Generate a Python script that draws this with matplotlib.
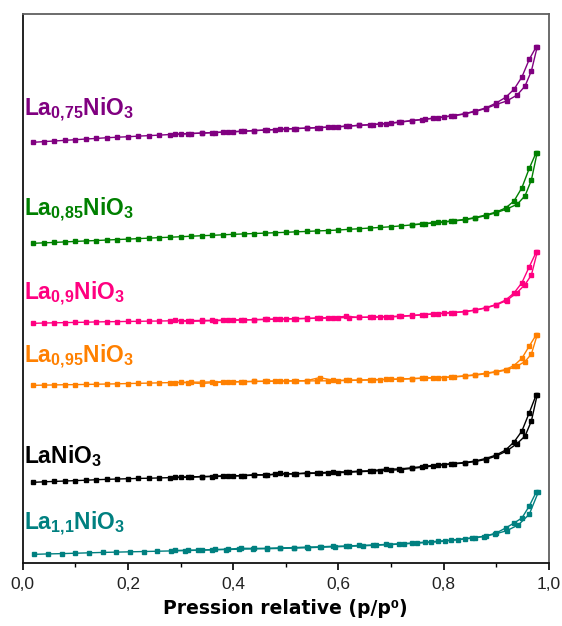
import matplotlib
matplotlib.use("Agg")
import matplotlib.pyplot as plt
from matplotlib.ticker import MultipleLocator, FuncFormatter

plt.rcParams['font.family'] = ['Liberation Sans', 'DejaVu Sans']
plt.rcParams['mathtext.fontset'] = 'custom'
plt.rcParams['mathtext.rm'] = 'Liberation Sans'
plt.rcParams['mathtext.bf'] = 'Liberation Sans:bold'
plt.rcParams['mathtext.it'] = 'Liberation Sans:italic'

# relative pressure grids (p/p0)
p_ads = [0.02, 0.04, 0.06, 0.08, 0.10, 0.12, 0.14, 0.16, 0.18, 0.20,
         0.22, 0.24, 0.26, 0.28, 0.30, 0.32, 0.34, 0.36, 0.38, 0.40,
         0.42, 0.44, 0.46, 0.48, 0.50, 0.52, 0.54, 0.56, 0.58, 0.60,
         0.62, 0.64, 0.66, 0.68, 0.70, 0.72, 0.74, 0.76, 0.78, 0.80,
         0.82, 0.84, 0.86, 0.88, 0.90, 0.92, 0.94, 0.955, 0.967, 0.978]
p_ads_teal = [0.022, 0.048, 0.074, 0.10, 0.126, 0.152, 0.178, 0.204, 0.23, 0.256,
              0.282, 0.308, 0.334, 0.36, 0.386, 0.412, 0.438, 0.464, 0.49, 0.516,
              0.542, 0.568, 0.594, 0.62, 0.646, 0.672, 0.698, 0.724, 0.75, 0.776,
              0.802, 0.828, 0.854, 0.876, 0.898, 0.92, 0.942, 0.963, 0.98]
p_des = [0.976, 0.963, 0.949, 0.934, 0.918, 0.90, 0.88, 0.86, 0.84, 0.815,
         0.79, 0.765, 0.74, 0.715, 0.69, 0.665, 0.64, 0.615, 0.59, 0.565,
         0.54, 0.515, 0.49, 0.465, 0.44, 0.415, 0.39, 0.365, 0.34, 0.315, 0.29]

# stacked isotherms (arbitrary units, offset per sample)
ads_075 = [420.7, 421.4, 422.0, 422.7, 423.3, 424.0, 424.6, 425.3, 425.8, 426.3,
           426.9, 427.4, 427.9, 428.5, 429.0, 429.5, 429.9, 430.4, 430.8, 431.3,
           431.8, 432.4, 432.9, 433.5, 434.0, 434.5, 434.9, 435.4, 435.8, 436.3,
           437.0, 437.7, 438.3, 439.0, 439.7, 441.0, 442.3, 443.5, 444.7, 446.0,
           447.3, 449.0, 451.5, 454.5, 458.5, 462.0, 468.0, 477.0, 492.0, 516.0]
des_075 = [516.0, 503.7, 486.0, 473.7, 465.7, 460.0, 455.0, 452.0, 449.3, 447.2,
           445.3, 444.0, 442.5, 441.0, 439.4, 438.5, 437.7, 436.8, 436.0, 435.5,
           434.9, 434.4, 433.8, 433.1, 432.4, 431.7, 431.1, 430.5, 429.9, 429.4, 428.8]

ads_085 = [319.7, 320.2, 320.6, 321.1, 321.6, 322.1, 322.5, 323.0, 323.5, 323.9,
           324.4, 324.9, 325.4, 325.8, 326.3, 326.8, 327.3, 327.7, 328.2, 328.7,
           329.1, 329.5, 329.9, 330.3, 330.7, 331.2, 331.6, 332.1, 332.5, 333.0,
           333.7, 334.3, 335.0, 335.6, 336.3, 337.2, 338.1, 339.0, 340.0, 341.0,
           342.0, 343.3, 345.0, 347.3, 350.3, 354.0, 358.7, 367.3, 383.0, 410.3]
des_085 = [410.3, 394.7, 375.3, 362.0, 355.0, 351.0, 348.0, 345.5, 343.6, 342.0,
           340.7, 339.5, 338.3]

ads_09 = [239.7, 240.0, 240.2, 240.4, 240.6, 240.8, 241.1, 241.3, 241.4, 241.6,
          241.7, 241.9, 242.0, 242.2, 242.3, 242.4, 242.6, 242.7, 242.9, 243.0,
          243.2, 243.4, 243.6, 243.8, 244.0, 244.3, 244.5, 244.8, 245.0, 245.3,
          245.5, 245.7, 245.8, 246.0, 246.2, 246.6, 247.4, 248.2, 249.0, 249.7,
          250.5, 251.3, 252.8, 255.0, 258.0, 262.5, 270.5, 278.5, 288.0, 310.7]
des_09 = [310.7, 296.3, 280.3, 270.0, 263.0, 258.5, 255.3, 253.0, 251.5, 250.3,
          249.5, 248.5, 247.6, 246.8, 246.4, 246.0, 245.6, 246.8, 245.4, 245.0,
          244.7, 244.3, 244.0, 243.7, 243.3, 243.1, 242.6, 242.4, 242.0, 241.6, 242.8]

ads_095 = [177.7, 177.9, 178.1, 178.3, 178.4, 178.6, 178.8, 179.0, 179.2, 179.5,
           179.7, 179.9, 180.2, 180.4, 180.7, 180.8, 180.9, 181.1, 181.2, 181.3,
           181.4, 181.6, 181.7, 181.9, 182.0, 182.1, 182.1, 182.2, 182.2, 182.3,
           182.6, 182.8, 183.1, 183.3, 183.6, 183.9, 184.3, 184.7, 185.1, 185.5,
           186.0, 186.9, 187.8, 189.3, 191.0, 193.0, 197.0, 201.5, 209.0, 228.0]
des_095 = [228.0, 217.0, 204.7, 197.5, 193.5, 191.5, 189.8, 188.3, 187.2, 186.2,
           185.5, 185.0, 184.5, 184.0, 183.7, 183.3, 183.0, 182.8, 182.6, 185.5,
           182.4, 182.2, 182.0, 181.8, 181.6, 181.3, 181.0, 180.5, 179.5, 180.3, 180.5]

ads_10 = [80.7, 81.2, 81.6, 82.0, 82.4, 82.8, 83.3, 83.7, 84.0, 84.3,
          84.6, 84.8, 85.1, 85.4, 85.7, 86.0, 86.2, 86.5, 86.7, 87.0,
          87.4, 87.8, 88.2, 88.6, 89.0, 89.3, 89.5, 89.8, 90.0, 90.3,
          90.8, 91.3, 91.8, 92.3, 92.8, 93.5, 94.6, 95.8, 97.0, 98.2,
          99.2, 100.0, 101.5, 103.5, 107.0, 112.0, 119.5, 127.0, 142.0, 168.0]
des_10 = [168.0, 150.3, 132.0, 121.0, 113.0, 108.0, 104.5, 102.0, 100.5, 99.3,
          98.2, 96.8, 95.3, 94.0, 94.0, 92.3, 92.0, 91.0, 91.5, 90.0,
          90.2, 89.0, 89.6, 88.0, 88.4, 87.2, 87.5, 86.8, 86.5, 86.0, 85.9]

ads_11 = [8.7, 9.1, 9.4, 9.8, 10.2, 10.6, 10.9, 11.2, 11.5, 11.8,
          12.1, 12.4, 12.8, 13.1, 13.5, 13.8, 14.1, 14.3, 14.6, 14.9,
          15.3, 15.8, 16.2, 16.7, 17.2, 17.8, 18.4, 19.1, 19.9, 20.7,
          21.9, 23.3, 24.9, 26.5, 29.0, 32.3, 38.0, 48.7, 70.7]
des_11 = [70.7, 57.0, 45.0, 40.0, 35.0, 30.0, 27.0, 25.5, 24.3, 23.0,
          21.8, 20.9, 20.0, 19.2, 18.6, 18.0, 17.6, 17.0, 16.8, 16.2,
          16.0, 15.4, 15.2, 14.8, 14.6, 14.8, 13.8, 13.6, 13.0, 12.8, 12.6]

labels = [r'$\mathbf{La_{0{,}75}NiO_3}$', r'$\mathbf{La_{0{,}85}NiO_3}$',
          r'$\mathbf{La_{0{,}9}NiO_3}$', r'$\mathbf{La_{0{,}95}NiO_3}$',
          r'$\mathbf{LaNiO_3}$', r'$\mathbf{La_{1{,}1}NiO_3}$']
label_y = [447, 347, 263, 200, 100, 33]
colors = ['#800080', '#008000', '#ff0080', '#ff8000', '#000000', '#008080']
ads_all = [ads_075, ads_085, ads_09, ads_095, ads_10, ads_11]
des_all = [des_075, des_085, des_09, des_095, des_10, des_11]
ads_x = [p_ads, p_ads, p_ads, p_ads, p_ads, p_ads_teal]

fig = plt.figure(figsize=(5.62, 6.26), dpi=100)
ax = fig.add_axes([0.0404, 0.1006, 0.936, 0.877])

for xa, ya, yd, c, lab, ly in zip(ads_x, ads_all, des_all, colors, labels, label_y):
    ax.plot(xa, ya, '-s', color=c, lw=1.0, ms=3.3, mec=c)
    ax.plot(p_des[:len(yd)], yd, '-s', color=c, lw=1.0, ms=3.3, mec=c)
    ax.text(0.003, ly, lab, color=c, fontsize=16.5, va='baseline', ha='left')

ax.set_xlim(0, 1.0)
ax.set_ylim(0, 549)
ax.xaxis.set_major_locator(MultipleLocator(0.2))
ax.xaxis.set_minor_locator(MultipleLocator(0.1))
ax.xaxis.set_major_formatter(FuncFormatter(lambda v, p: f"{v:.1f}".replace('.', ',')))
ax.set_yticks([])
ax.tick_params(axis='x', which='major', direction='out', length=5, width=1.2,
               labelsize=12.5, labelcolor='#222222', pad=5)
ax.tick_params(axis='x', which='minor', direction='out', length=3, width=1.0)
ax.set_xlabel('Pression relative (p/p\u2070)', fontsize=13.5, fontweight='bold',
              family=['DejaVu Sans'], labelpad=5)

for side in ['left', 'bottom']:
    ax.spines[side].set_color('#111111')
    ax.spines[side].set_linewidth(1.3)
for side in ['top', 'right']:
    ax.spines[side].set_color('#606060')
    ax.spines[side].set_linewidth(1.3)

fig.savefig('out.png', dpi=100)
